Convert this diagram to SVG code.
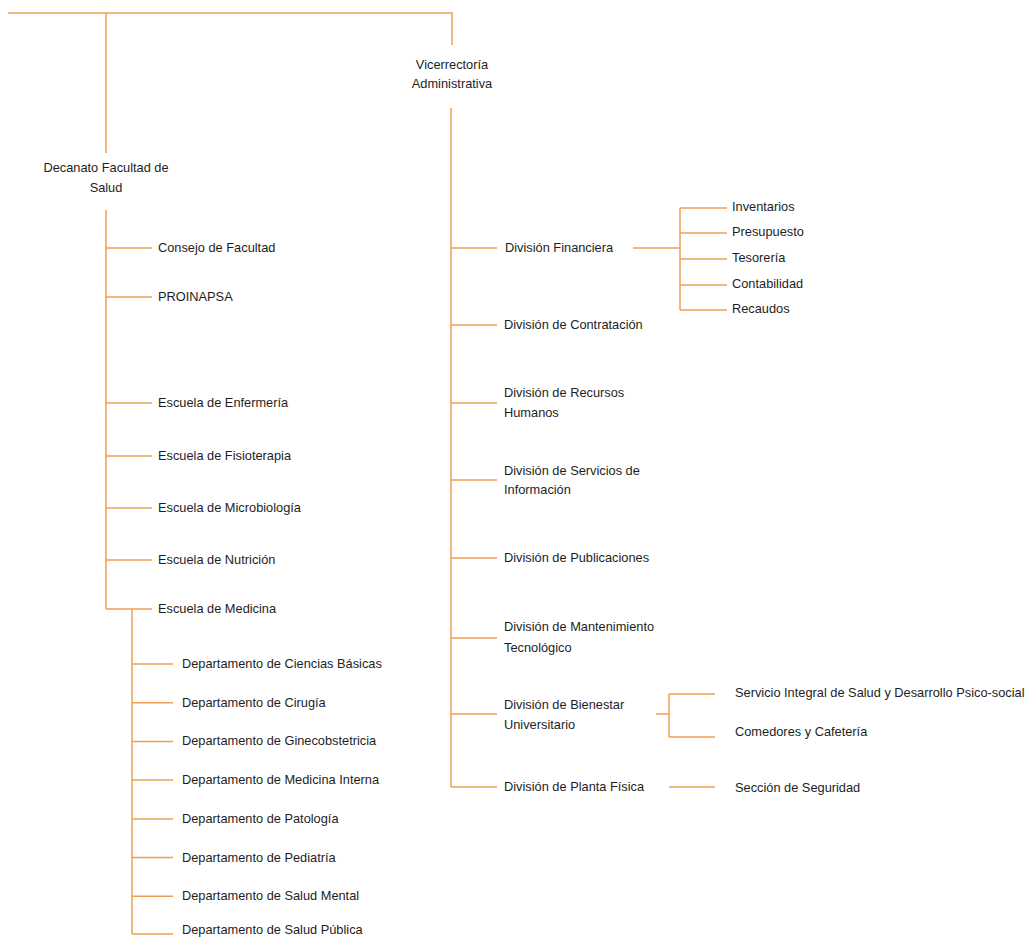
<svg xmlns="http://www.w3.org/2000/svg" width="1027" height="938" viewBox="0 0 1027 938">
<style>
.c{fill:none;stroke:#EE9E55;stroke-width:1.5}
text{font-family:"Liberation Sans",Arial,sans-serif;font-size:12.8px;fill:#1e1e1e}
.m{text-anchor:middle}
</style>
<rect width="1027" height="938" fill="#ffffff"/>
<g id="connectors" class="c">
<path d="M8 13H452V45"/>
<path d="M106 13V153"/>
<path d="M106 210V609"/>
<path d="M106 248H152M106 297H152M106 403H152M106 456H152M106 508H152M106 560H152M106 609H152"/>
<path d="M132 609V934"/>
<path d="M132 664H173M132 702.7H173M132 741.4H173M132 780H173M132 818.9H173M132 857.6H173M132 896.3H173M132 934H173"/>
<path d="M451 108V787"/>
<path d="M451 248H497M451 325H497M451 403H497M451 480H497M451 558H497M451 638H497M451 714H497M451 787H497"/>
<path d="M633 248H680M680 208V310M680 208H727M680 233H727M680 259H727M680 285H727M680 310H727"/>
<path d="M656 714H669M669 694V737M669 694H715M669 737H715"/>
<path d="M669 787H715"/>
</g>
<g id="decanato"><text class="m" x="106" y="172">Decanato Facultad de</text><text class="m" x="106" y="192">Salud</text></g>
<g id="vicerrectoria"><text class="m" x="452" y="69">Vicerrectoría</text><text class="m" x="452" y="88">Administrativa</text></g>
<g id="consejo"><text x="158" y="252">Consejo de Facultad</text></g>
<g id="proinapsa"><text x="158" y="301">PROINAPSA</text></g>
<g id="enfermeria"><text x="158" y="407">Escuela de Enfermería</text></g>
<g id="fisioterapia"><text x="158" y="460">Escuela de Fisioterapia</text></g>
<g id="microbiologia"><text x="158" y="512">Escuela de Microbiología</text></g>
<g id="nutricion"><text x="158" y="564">Escuela de Nutrición</text></g>
<g id="medicina"><text x="158" y="613">Escuela de Medicina</text></g>
<g id="d1"><text x="182" y="668">Departamento de Ciencias Básicas</text></g>
<g id="d2"><text x="182" y="706.7">Departamento de Cirugía</text></g>
<g id="d3"><text x="182" y="745.4">Departamento de Ginecobstetricia</text></g>
<g id="d4"><text x="182" y="784">Departamento de Medicina Interna</text></g>
<g id="d5"><text x="182" y="822.9">Departamento de Patología</text></g>
<g id="d6"><text x="182" y="861.6">Departamento de Pediatría</text></g>
<g id="d7"><text x="182" y="900.3">Departamento de Salud Mental</text></g>
<g id="d8"><text x="182" y="934">Departamento de Salud Pública</text></g>
<g id="financiera"><text x="505" y="252">División Financiera</text></g>
<g id="contratacion"><text x="504" y="329">División de Contratación</text></g>
<g id="rrhh"><text x="504" y="397">División de Recursos</text><text x="504" y="417">Humanos</text></g>
<g id="servicios"><text x="504" y="475">División de Servicios de</text><text x="504" y="494">Información</text></g>
<g id="publicaciones"><text x="504" y="562">División de Publicaciones</text></g>
<g id="mantenimiento"><text x="504" y="631">División de Mantenimiento</text><text x="504" y="652">Tecnológico</text></g>
<g id="bienestar"><text x="504" y="709">División de Bienestar</text><text x="504" y="729">Universitario</text></g>
<g id="planta"><text x="504" y="791">División de Planta Física</text></g>
<g id="inventarios"><text x="732" y="211">Inventarios</text></g>
<g id="presupuesto"><text x="732" y="236">Presupuesto</text></g>
<g id="tesoreria"><text x="732" y="262">Tesorería</text></g>
<g id="contabilidad"><text x="732" y="288">Contabilidad</text></g>
<g id="recaudos"><text x="732" y="313">Recaudos</text></g>
<g id="servicio-integral"><text x="735" y="697">Servicio Integral de Salud y Desarrollo Psico-social</text></g>
<g id="comedores"><text x="735" y="736">Comedores y Cafetería</text></g>
<g id="seguridad"><text x="735" y="792">Sección de Seguridad</text></g>
</svg>
